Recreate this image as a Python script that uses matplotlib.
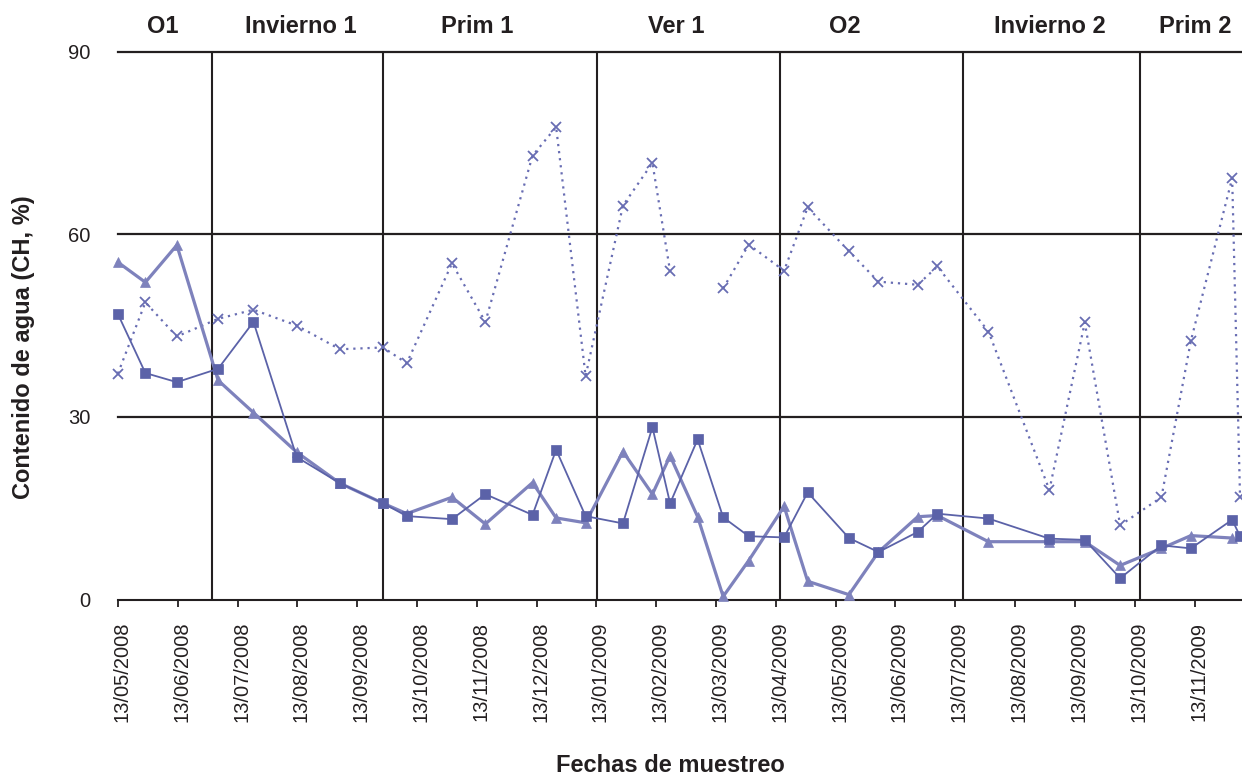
"""Contenido de agua (CH) por fecha de muestreo, separado por estaciones."""

import matplotlib
import numpy as np
import pandas as pd

matplotlib.use("Agg")
from matplotlib import pyplot as plt
from matplotlib import transforms

FECHAS = [
    "2008-05-13", "2008-05-27", "2008-06-12", "2008-07-03", "2008-07-21",
    "2008-08-12", "2008-09-03", "2008-09-25", "2008-10-07", "2008-10-30",
    "2008-11-16", "2008-12-10", "2008-12-22", "2009-01-06", "2009-01-25",
    "2009-02-09", "2009-02-18", "2009-03-04", "2009-03-17", "2009-03-30",
    "2009-04-17", "2009-04-29", "2009-05-20", "2009-06-04", "2009-06-24",
    "2009-07-04", "2009-07-30", "2009-08-30", "2009-09-17", "2009-10-05",
    "2009-10-26", "2009-11-10", "2009-12-01", "2009-12-05",
]
CH_CUADRADOS = [
    46.9, 37.2, 35.7, 37.9, 45.6, 23.4, 19.1, 15.8, 13.7, 13.2,
    17.3, 13.9, 24.6, 13.7, 12.5, 28.3, 15.8, 26.3, 13.5, 10.4,
    10.2, 17.6, 10.1, 7.8, 11.1, 14.1, 13.3, 10.0, 9.8, 3.5,
    8.9, 8.4, 13.1, 10.4,
]
CH_TRIANGULOS = [
    55.4, 52.1, 58.2, 36.0, 30.7, 24.2, 19.1, 15.8, 14.1, 16.8,
    12.4, 19.2, 13.4, 12.6, 24.3, 17.3, 23.6, 13.6, 0.5, 6.4,
    15.3, 3.0, 0.8, 7.8, 13.6, 13.8, 9.5, 9.5, 9.5, 5.6,
    8.4, 10.5, 10.1, np.nan,
]
CH_CRUCES = [
    37.1, 48.8, 43.2, 46.1, 47.6, 45.0, 41.1, 41.4, 38.8, 55.2,
    45.6, 72.9, 77.6, 36.7, 64.7, 71.7, 53.9, np.nan, 51.1, 58.3,
    54.0, 64.4, 57.2, 52.2, 51.7, 54.7, 44.0, 18.0, 45.5, 12.2,
    16.8, 42.5, 69.2, 16.8,
]

ESTACIONES = ["O1", "Invierno 1", "Prim 1", "Ver 1", "O2", "Invierno 2", "Prim 2"]
CENTROS_ESTACION = [
    "2008-06-05", "2008-08-14", "2008-11-12", "2009-02-21",
    "2009-05-18", "2009-08-30", "2009-11-12",
]
LIMITES_ESTACION = [
    "2008-06-30", "2008-09-25", "2009-01-12",
    "2009-04-15", "2009-07-17", "2009-10-15",
]
ETIQUETAS_X = [
    "13/05/2008", "13/06/2008", "13/07/2008", "13/08/2008", "13/09/2008",
    "13/10/2008", "13/11/2008", "13/12/2008", "13/01/2009", "13/02/2009",
    "13/03/2009", "13/04/2009", "13/05/2009", "13/06/2009", "13/07/2009",
    "13/08/2009", "13/09/2009", "13/10/2009", "13/11/2009",
]
Y_TICKS = [0, 30, 60, 90]

NEGRO = "#231F20"
COLOR_CUADRADO = "#5B62A8"
COLOR_TRIANGULO = "#7E82BC"
COLOR_CRUZ = "#686DB3"


def main() -> None:
    plt.rcParams["font.family"] = ["Liberation Sans", "DejaVu Sans"]
    fig = plt.figure(figsize=(12.42, 7.76), dpi=100)
    ax = fig.add_axes([0.0949, 0.2274, 0.9051, 0.7062])

    fechas = pd.to_datetime(FECHAS)
    inicio = fechas[0]

    # rejilla: horizontales en 30/60/90 y líneas de separación de estaciones
    for valor in Y_TICKS[1:]:
        ax.axhline(valor, color=NEGRO, lw=1.6, clip_on=False, zorder=1)
    for limite in LIMITES_ESTACION:
        ax.axvline(pd.Timestamp(limite), color=NEGRO, lw=1.5, zorder=1)

    ax.plot(
        fechas, CH_CRUCES, color=COLOR_CRUZ, ls=(0, (1, 2.2)), lw=1.6,
        marker="x", ms=7.5, mew=1.3, clip_on=False, zorder=3,
    )
    ax.plot(
        fechas, CH_TRIANGULOS, color=COLOR_TRIANGULO, lw=2.3,
        marker="^", ms=7.5, mew=0.5, clip_on=False, zorder=3,
    )
    ax.plot(
        fechas, CH_CUADRADOS, color=COLOR_CUADRADO, lw=1.3,
        marker="s", ms=7, mew=0.5, clip_on=False, zorder=4,
    )

    ax.set_ylim(0, 90)
    ax.set_xlim(inicio, inicio + pd.Timedelta(days=572))
    ax.set_yticks(Y_TICKS)

    paso = 365.25 / 12
    posiciones = [inicio + pd.Timedelta(days=k * paso) for k in range(len(ETIQUETAS_X))]
    ax.set_xticks(posiciones, ETIQUETAS_X, rotation=90)
    ax.tick_params(axis="y", length=0, pad=19.5, labelsize=14.5, labelcolor=NEGRO)
    ax.tick_params(
        axis="x", length=5, width=1.3, direction="out", color=NEGRO,
        pad=11, labelsize=14.5, labelcolor=NEGRO,
    )
    desplazamiento = transforms.ScaledTranslation(4 / 100, 0, fig.dpi_scale_trans)
    for etiqueta in ax.get_xticklabels():
        etiqueta.set_transform(etiqueta.get_transform() + desplazamiento)

    for lado in ("left", "right", "top"):
        ax.spines[lado].set_visible(False)
    ax.spines["bottom"].set_color(NEGRO)
    ax.spines["bottom"].set_linewidth(1.5)

    mezcla = transforms.blended_transform_factory(ax.transData, ax.transAxes)
    for nombre, centro in zip(ESTACIONES, CENTROS_ESTACION, strict=True):
        ax.text(
            pd.Timestamp(centro), 1.0347, nombre, transform=mezcla,
            ha="center", va="baseline", fontsize=17, fontweight="bold", color=NEGRO,
        )

    fig.text(
        24 / 1242, 1 - 347.5 / 776, "Contenido de agua (CH, %)", rotation=90,
        ha="center", va="center", fontsize=17, fontweight="bold", color=NEGRO,
    )
    fig.text(
        670 / 1242, 1 - 771.7 / 776, "Fechas de muestreo",
        ha="center", va="baseline", fontsize=17, fontweight="bold", color=NEGRO,
    )

    fig.savefig("out.png", dpi=100)
    plt.close(fig)


if __name__ == "__main__":
    main()
